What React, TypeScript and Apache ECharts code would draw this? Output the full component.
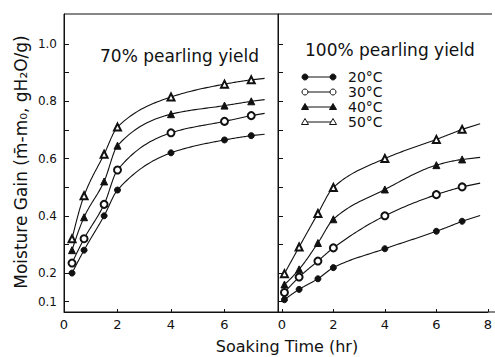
import React, { useEffect, useRef } from "react";
import * as echarts from "echarts";

// Soaking times (hr)
const hoursLeft = [0.3, 0.75, 1.5, 2, 4, 6, 7];
const hoursRight = [0.1, 0.67, 1.4, 2, 4, 6, 7];

// 70% pearling yield
const left20 = [0.2, 0.28, 0.4, 0.49, 0.62, 0.665, 0.68];
const left30 = [0.235, 0.32, 0.44, 0.56, 0.69, 0.73, 0.75];
const left40 = [0.28, 0.395, 0.52, 0.645, 0.755, 0.785, 0.8];
const left50 = [0.32, 0.47, 0.615, 0.71, 0.815, 0.86, 0.875];

// 100% pearling yield
const right20 = [0.107, 0.143, 0.18, 0.219, 0.285, 0.346, 0.381];
const right30 = [0.132, 0.186, 0.242, 0.288, 0.4, 0.474, 0.501];
const right40 = [0.16, 0.213, 0.305, 0.388, 0.492, 0.577, 0.597];
const right50 = [0.198, 0.291, 0.408, 0.499, 0.6, 0.667, 0.702];

const temps = ["20°C", "30°C", "40°C", "50°C"];
const yTickValues = [0.1, 0.2, 0.3, 0.4, 0.5, 0.6, 0.7, 0.8, 0.9, 1.0];
const yLabelValues = [0.1, 0.2, 0.4, 0.6, 0.8, 1.0];
const xTickValues = [0, 2, 4, 6, 8];
const xLabelsLeft = [0, 2, 4, 6];

const INK = "#111";
const FONT = "DejaVu Sans";

const symbols = ["circle", "emptyCircle", "triangle", "emptyTriangle"];
const symbolSizes = [6, 7, 7, 7];

function pair(xs: number[], ys: number[]) {
  return xs.map((x, i) => [x, ys[i]]);
}

// monotone (PCHIP) tangents
function pchipSlopes(xs: number[], ys: number[]) {
  const n = xs.length;
  const h: number[] = [];
  const d: number[] = [];
  for (let k = 0; k < n - 1; k++) {
    h.push(xs[k + 1] - xs[k]);
    d.push((ys[k + 1] - ys[k]) / h[k]);
  }
  const m: number[] = new Array(n).fill(0);
  for (let k = 1; k < n - 1; k++) {
    if (d[k - 1] * d[k] <= 0) m[k] = 0;
    else {
      const w1 = 2 * h[k] + h[k - 1];
      const w2 = h[k] + 2 * h[k - 1];
      m[k] = (w1 + w2) / (w1 / d[k - 1] + w2 / d[k]);
    }
  }
  const endSlope = (h0: number, h1: number, d0: number, d1: number) => {
    let s = ((2 * h0 + h1) * d0 - h0 * d1) / (h0 + h1);
    if (s * d0 <= 0) s = 0;
    else if (d0 * d1 <= 0 && Math.abs(s) > Math.abs(3 * d0)) s = 3 * d0;
    return s;
  };
  m[0] = endSlope(h[0], h[1], d[0], d[1]);
  m[n - 1] = endSlope(h[n - 2], h[n - 3], d[n - 2], d[n - 3]);
  return m;
}

function curvePoints(xs: number[], ys: number[], ext: number) {
  const m = pchipSlopes(xs, ys);
  const pts: number[][] = [];
  const steps = 24;
  for (let k = 0; k < xs.length - 1; k++) {
    const x0 = xs[k];
    const x1 = xs[k + 1];
    const hh = x1 - x0;
    for (let s = 0; s < steps; s++) {
      const t = s / steps;
      const h00 = 2 * t * t * t - 3 * t * t + 1;
      const h10 = t * t * t - 2 * t * t + t;
      const h01 = -2 * t * t * t + 3 * t * t;
      const h11 = t * t * t - t * t;
      pts.push([
        x0 + t * hh,
        h00 * ys[k] + h10 * hh * m[k] + h01 * ys[k + 1] + h11 * hh * m[k + 1],
      ]);
    }
  }
  const n = xs.length - 1;
  pts.push([xs[n], ys[n]]);
  // short continuation of the fitted curve past the last reading
  pts.push([xs[n] + ext, ys[n] + m[n] * ext * 0.8]);
  return pts;
}

export default function App() {
  const ref = useRef<HTMLDivElement>(null);
  useEffect(() => {
    if (!ref.current) return;
    const chart = echarts.init(ref.current, null, { renderer: "svg" });

    const leftSets = [left20, left30, left40, left50];
    const rightSets = [right20, right30, right40, right50];

    const mkSeries = (sets: number[][], xs: number[], idx: number, ext: number, tag: string) => {
      const out: any[] = [];
      sets.forEach((ys, i) => {
        const curve = curvePoints(xs, ys, ext);
        out.push({
          name: `${tag} ${temps[i]} fit`,
          type: "custom",
          coordinateSystem: "cartesian2d",
          xAxisIndex: idx,
          yAxisIndex: idx,
          data: pair(xs, ys),
          encode: { x: 0, y: 1 },
          silent: true,
          z: 2,
          renderItem: (params: any, api: any) => {
            if (params.dataIndex !== 0) return null;
            const points = curve.map((p) => api.coord(p));
            return {
              type: "polyline",
              shape: { points },
              style: { stroke: INK, lineWidth: 1.1, fill: "none", lineDash: "solid" },
            };
          },
        });
        out.push({
          name: `${tag} ${temps[i]}`,
          type: "scatter",
          xAxisIndex: idx,
          yAxisIndex: idx,
          data: pair(xs, ys),
          symbol: symbols[i],
          symbolSize: symbolSizes[i],
          itemStyle: {
            color: INK,
            borderColor: INK,
            borderWidth: 1,
            opacity: 1,
          },
          emphasis: { disabled: true },
          z: 3,
        });
      });
      return out;
    };

    const yAxisCommon = {
      type: "value",
      min: 0.064,
      max: 1.105,
      splitLine: { show: false },
      axisLine: { show: true, onZero: false, lineStyle: { color: INK, width: 1 } },
      axisTick: {
        show: true,
        inside: true,
        length: 5,
        customValues: yTickValues,
        lineStyle: { color: INK },
      },
    };

    const xAxisCommon = {
      type: "value",
      max: 8,
      splitLine: { show: false },
      axisLine: { show: true, onZero: false, lineStyle: { color: INK, width: 1 } },
      axisTick: {
        show: true,
        inside: true,
        length: 3,
        customValues: xTickValues,
        lineStyle: { color: INK },
      },
    };

    // legend graphics
    const legendRowsY = [77, 92, 107, 122];
    const lx1 = 305;
    const lx2 = 333;
    const legendEls: any[] = [];
    const triPts = (cx: number, cy: number) => [
      [cx, cy - 3.5],
      [cx + 3.5, cy + 2.5],
      [cx - 3.5, cy + 2.5],
    ];
    temps.forEach((t, i) => {
      const y = legendRowsY[i];
      legendEls.push({
        type: "line",
        shape: { x1: lx1, y1: y, x2: lx2, y2: y },
        style: { stroke: INK, lineWidth: 1 },
      });
      [lx1, lx2].forEach((cx) => {
        if (i < 2) {
          legendEls.push({
            type: "circle",
            shape: { cx, cy: y, r: 3 },
            style: { fill: i === 0 ? INK : "#fff", stroke: INK, lineWidth: 1 },
          });
        } else {
          legendEls.push({
            type: "polygon",
            shape: { points: triPts(cx, y) },
            style: { fill: i === 2 ? INK : "#fff", stroke: INK, lineWidth: 1 },
          });
        }
      });
      legendEls.push({
        type: "text",
        x: 348,
        y,
        style: {
          text: t,
          fill: INK,
          font: `14px "${FONT}"`,
          textAlign: "left",
          textVerticalAlign: "middle",
        },
      });
    });

    chart.setOption({
      animation: false,
      backgroundColor: "#fff",
      grid: [
        { left: 64, top: 14, width: 214, height: 298, show: true, borderColor: INK, borderWidth: 1, containLabel: false },
        { left: 278, top: 14, width: 215, height: 298, show: false, containLabel: false },
      ],
      xAxis: [
        {
          ...xAxisCommon,
          gridIndex: 0,
          min: 0,
          axisLabel: {
            customValues: xLabelsLeft,
            color: INK,
            fontFamily: FONT,
            fontSize: 13,
            margin: 6,
            formatter: (v: number) => String(v),
          },
        },
        {
          ...xAxisCommon,
          gridIndex: 1,
          min: -0.15,
          axisLabel: {
            customValues: xTickValues,
            color: INK,
            fontFamily: FONT,
            fontSize: 13,
            margin: 6,
            formatter: (v: number) => String(v),
          },
        },
      ],
      yAxis: [
        {
          ...yAxisCommon,
          gridIndex: 0,
          axisLabel: {
            show: true,
            customValues: yLabelValues,
            color: INK,
            fontFamily: FONT,
            fontSize: 12,
            margin: 7,
            formatter: (v: number) => v.toFixed(1),
          },
        },
        {
          ...yAxisCommon,
          gridIndex: 1,
          axisLabel: { show: false },
        },
      ],
      series: [
        ...mkSeries(leftSets, hoursLeft, 0, 0.5, "70%"),
        ...mkSeries(rightSets, hoursRight, 1, 0.7, "100%"),
      ],
      graphic: [
        {
          type: "line",
          shape: { x1: 278, y1: 14, x2: 492, y2: 14 },
          style: { stroke: INK, lineWidth: 1 },
        },
        {
          type: "line",
          shape: { x1: 278, y1: 312, x2: 495, y2: 312 },
          style: { stroke: INK, lineWidth: 1 },
        },
        {
          type: "text",
          x: 100,
          y: 56,
          style: {
            text: "70% pearling yield",
            fill: INK,
            font: `17px "${FONT}"`,
            textAlign: "left",
            textVerticalAlign: "middle",
          },
        },
        {
          type: "text",
          x: 305,
          y: 50,
          style: {
            text: "100% pearling yield",
            fill: INK,
            font: `17px "${FONT}"`,
            textAlign: "left",
            textVerticalAlign: "middle",
          },
        },
        {
          type: "text",
          x: 287,
          y: 346,
          style: {
            text: "Soaking Time (hr)",
            fill: INK,
            font: `16px "${FONT}"`,
            textAlign: "center",
            textVerticalAlign: "middle",
          },
        },
        {
          type: "text",
          x: 21,
          y: 162,
          rotation: Math.PI / 2,
          style: {
            text: "Moisture Gain (m\u0304-m\u2080, gH\u2082O/g)",
            fill: INK,
            font: `17px "${FONT}"`,
            textAlign: "center",
            textVerticalAlign: "middle",
          },
        },
        ...legendEls,
      ],
    });

    return () => chart.dispose();
  }, []);

  return (
    <div
      ref={ref}
      style={{ position: "absolute", left: 0, top: 0, width: 495, height: 357, background: "#fff" }}
    />
  );
}
